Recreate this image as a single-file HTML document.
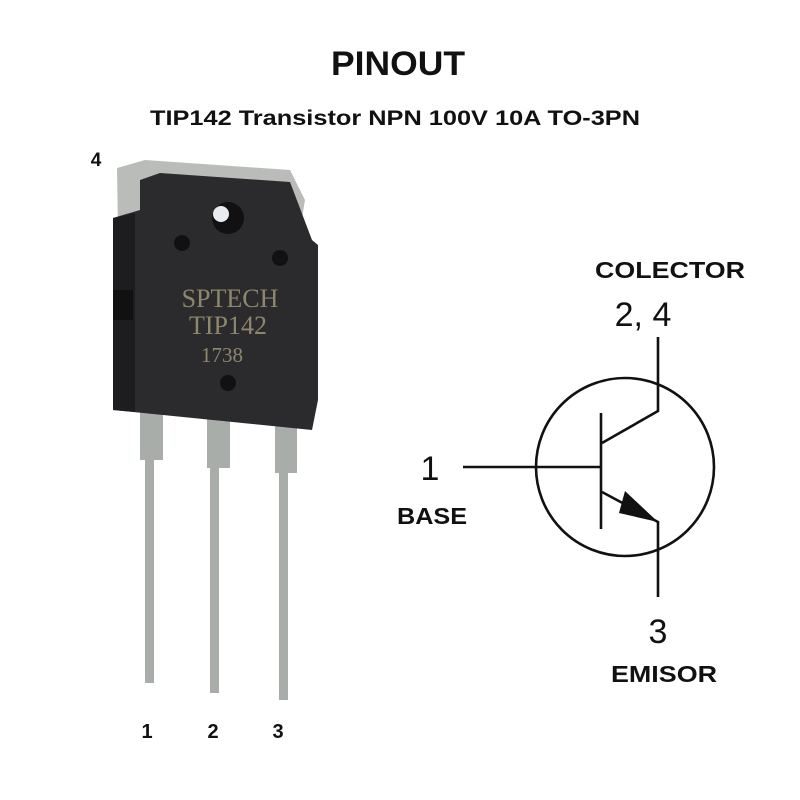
<!DOCTYPE html>
<html><head><meta charset="utf-8"><style>
html,body{margin:0;padding:0;background:#fff;width:800px;height:800px;overflow:hidden}
svg{display:block}
</style></head><body>
<svg width="800" height="800" viewBox="0 0 800 800" xmlns="http://www.w3.org/2000/svg">
<rect width="800" height="800" fill="#fff"/>
<text x="398" y="75" text-anchor="middle" font-family="Liberation Sans, sans-serif" font-weight="bold" font-size="34" fill="#111" textLength="134" lengthAdjust="spacingAndGlyphs">PINOUT</text>
<text x="395" y="125" text-anchor="middle" font-family="Liberation Sans, sans-serif" font-weight="bold" font-size="21" fill="#111" textLength="490" lengthAdjust="spacingAndGlyphs">TIP142 Transistor NPN 100V 10A TO-3PN</text>
<text x="96" y="166" text-anchor="middle" font-family="Liberation Sans, sans-serif" font-weight="bold" font-size="19" fill="#111">4</text>

<!-- leads -->
<g fill="#a9adaa">
<rect x="140" y="405" width="23" height="55"/><rect x="145" y="455" width="9" height="228"/>
<rect x="207" y="418" width="23" height="50"/><rect x="210" y="462" width="9" height="231"/>
<rect x="275" y="423" width="22" height="50"/><rect x="279" y="467" width="9" height="233"/>
</g>
<!-- tab -->
<polygon points="117,168 145,160 290,170 305,200 300,230 118,230" fill="#b9bcb8"/>
<!-- body -->
<polygon points="113,218 140,210 140,180 160,173 290,182 312,240 318,245 318,400 312,430 113,410" fill="#2b2b2d"/>
<polygon points="113,218 135,213 135,412 113,410" fill="#1d1d1f"/>
<rect x="113" y="290" width="20" height="30" fill="#111"/>
<circle cx="228" cy="218" r="16" fill="#111"/>
<circle cx="221" cy="214" r="8" fill="#e8ecf0"/>
<circle cx="182" cy="243" r="8" fill="#111"/>
<circle cx="280" cy="258" r="8" fill="#111"/>
<circle cx="228" cy="383" r="8" fill="#111"/>
<g font-family="Liberation Serif, serif" fill="#8d876c" text-anchor="middle">
<text x="230" y="307" font-size="26">SPTECH</text>
<text x="228" y="334" font-size="26">TIP142</text>
<text x="222" y="362" font-size="21">1738</text>
</g>
<g font-family="Liberation Sans, sans-serif" font-weight="bold" font-size="20" fill="#111" text-anchor="middle">
<text x="147" y="738">1</text><text x="213" y="738">2</text><text x="278" y="738">3</text>
</g>

<!-- symbol -->
<g stroke="#111" stroke-width="2.6" fill="none">
<circle cx="625" cy="467" r="89"/>
<line x1="463" y1="467" x2="601" y2="467"/>
<line x1="601" y1="413" x2="601" y2="529"/>
<polyline points="602,443 658,411 658,337"/>
<polyline points="602,492 658,522 658,597"/>
</g>
<polygon points="658,522 625,491 619,513" fill="#111"/>
<g font-family="Liberation Sans, sans-serif" fill="#111" text-anchor="middle">
<text x="643" y="326" font-size="34">2, 4</text>
<text x="430" y="480" font-size="34">1</text>
<text x="658" y="643" font-size="34">3</text>
</g>
<g font-family="Liberation Sans, sans-serif" font-weight="bold" font-size="23" fill="#111" text-anchor="middle">
<text x="670" y="278" textLength="150" lengthAdjust="spacingAndGlyphs">COLECTOR</text>
<text x="432" y="524" textLength="70" lengthAdjust="spacingAndGlyphs">BASE</text>
<text x="664" y="682" textLength="106" lengthAdjust="spacingAndGlyphs">EMISOR</text>
</g>
</svg>
</body></html>
